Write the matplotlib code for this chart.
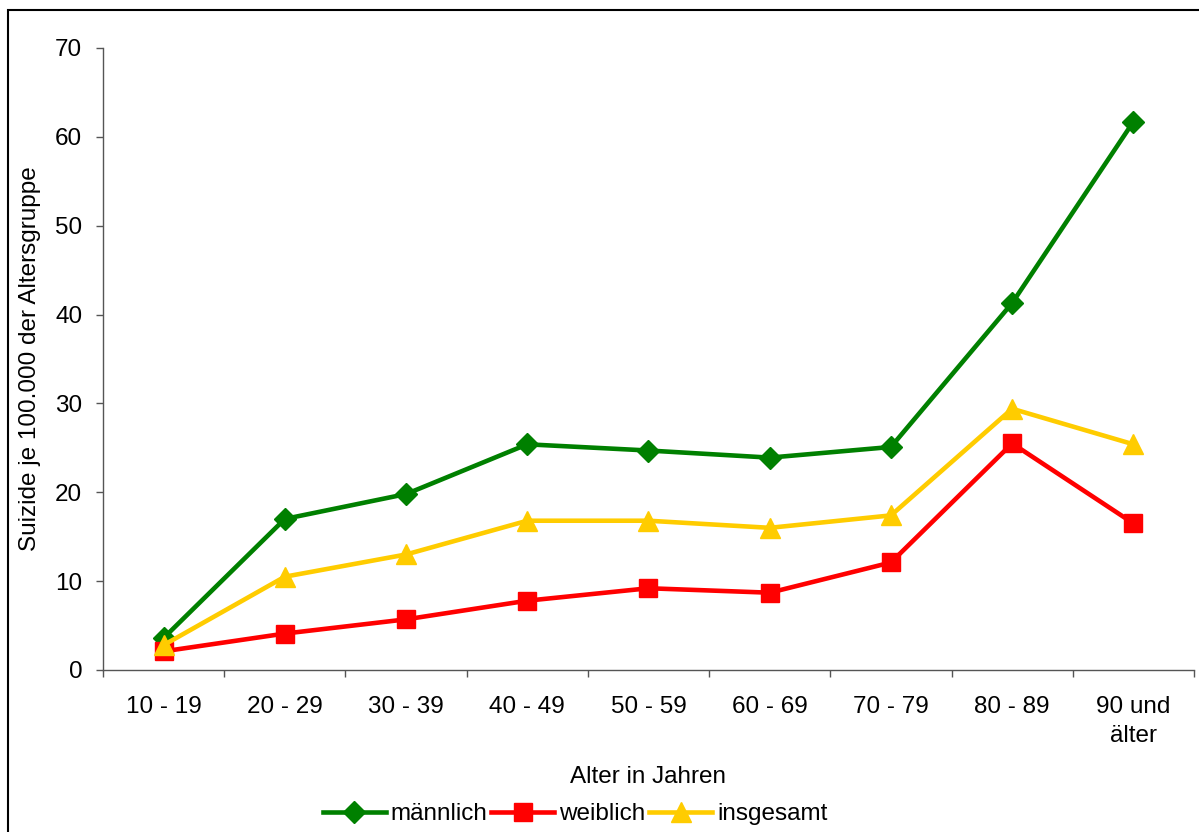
import matplotlib
matplotlib.use("Agg")
import matplotlib.pyplot as plt
from matplotlib.patches import Rectangle

plt.rcParams['font.family'] = ['Liberation Sans', 'DejaVu Sans']

# Suizide je 100.000 der Altersgruppe
altersgruppen = ["10 - 19", "20 - 29", "30 - 39", "40 - 49", "50 - 59",
                 "60 - 69", "70 - 79", "80 - 89", "90 und\nälter"]
maennlich = [3.6, 17.0, 19.8, 25.4, 24.7, 23.9, 25.1, 41.3, 61.7]
weiblich = [2.1, 4.1, 5.7, 7.8, 9.2, 8.7, 12.1, 25.5, 16.5]
insgesamt = [2.8, 10.5, 13.0, 16.8, 16.8, 16.0, 17.4, 29.4, 25.4]

fs = 17.5
fig = plt.figure(figsize=(11.99, 8.32), dpi=100)
ax = fig.add_axes([103/1199, 1 - 670/832, 1091/1199, 622/832])

x = list(range(len(altersgruppen)))
ax.plot(x, maennlich, color='#008000', lw=3.3, marker='D', ms=11, label='männlich')
ax.plot(x, weiblich, color='#FF0000', lw=3.3, marker='s', ms=13, label='weiblich')
ax.plot(x, insgesamt, color='#FFCC00', lw=3.3, marker='^', ms=14, label='insgesamt')

ax.set_xlim(-0.5, len(altersgruppen) - 0.5)
ax.set_ylim(0, 70)
ax.set_yticks(range(0, 71, 10))
ax.set_xticks(x)
ax.set_xticklabels(altersgruppen, fontsize=fs, linespacing=1.38)
ax.set_xticks([i - 0.5 for i in range(len(altersgruppen) + 1)], minor=True)
ax.tick_params(axis='x', which='major', length=0, pad=19)
ax.tick_params(axis='x', which='minor', length=5, width=1, color='#555555')
ax.tick_params(axis='y', length=5, width=1, color='#555555', labelsize=fs, pad=10)

for s in ['top', 'right']:
    ax.spines[s].set_visible(False)
for s in ['left', 'bottom']:
    ax.spines[s].set_color('#555555')
    ax.spines[s].set_linewidth(1)

ax.set_xlabel("Alter in Jahren", fontsize=fs, labelpad=14)
ax.set_ylabel("Suizide je 100.000 der Altersgruppe", fontsize=fs, labelpad=10)

fig.legend(loc='center', bbox_to_anchor=(575/1199, 1 - 814/832), ncol=3,
           frameon=False, fontsize=fs, handlelength=2.6, handletextpad=0.2,
           columnspacing=0.15)

# Rahmen um das Diagramm
fig.add_artist(Rectangle((8/1199, -0.1), 1.2, 0.1 + (1 - 10/832),
                         transform=fig.transFigure, fill=False,
                         edgecolor='black', lw=1.5))

fig.savefig("out.png", dpi=100)
